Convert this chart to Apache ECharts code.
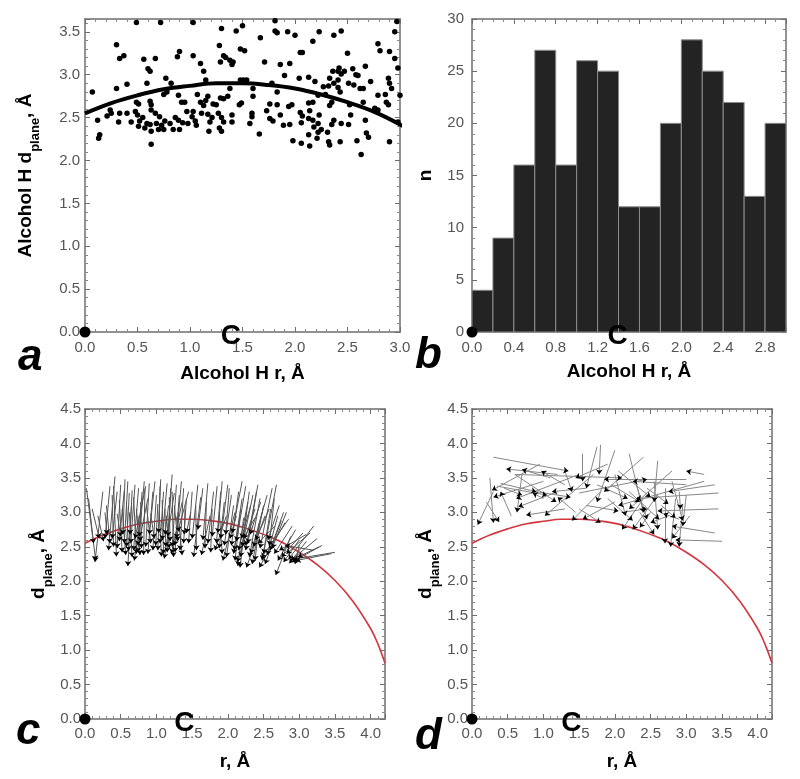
<!DOCTYPE html>
<html><head><meta charset="utf-8">
<script src="https://cdn.jsdelivr.net/npm/echarts@6/dist/echarts.min.js"></script>
<style>html,body{margin:0;padding:0;background:#fff}#chart{width:800px;height:779px}</style>
</head><body><div id="chart"></div>
<script>
// ---------- DATA ----------
// Panel a: alcohol H positions (r, d_plane)
const scatterA = [
[0.49,3.61],[0.72,3.61],[0.30,3.35],[0.33,3.19],[0.37,3.22],[0.56,3.18],[0.67,3.19],[0.88,3.21],[0.90,3.27],
[0.60,3.07],[0.62,3.04],[0.77,2.96],[0.59,2.90],[0.82,2.90],[0.40,2.89],[0.30,2.84],[0.07,2.80],[0.75,2.77],
[0.78,2.80],[0.89,2.76],[0.49,2.68],[0.51,2.66],[0.62,2.69],[0.63,2.65],[0.92,2.68],[0.95,2.68],[0.24,2.59],
[0.25,2.55],[0.33,2.55],[0.40,2.55],[0.48,2.57],[0.50,2.53],[0.63,2.59],[0.67,2.55],[0.71,2.51],[0.97,2.57],
[0.12,2.47],[0.32,2.45],[0.44,2.45],[0.52,2.46],[0.51,2.40],[0.59,2.43],[0.62,2.42],[0.68,2.43],[0.70,2.36],
[0.76,2.46],[0.81,2.43],[0.89,2.47],[0.98,2.43],[0.63,2.34],[0.75,2.36],[0.84,2.36],[0.90,2.36],[0.14,2.30],
[0.13,2.26],[0.63,2.19],[0.55,2.50],[0.57,2.38],[0.73,2.41],[0.86,2.50],[0.93,2.44],[0.21,2.52],
[1.03,3.61],[1.30,3.54],[1.44,3.51],[1.50,3.57],[1.67,3.43],[1.81,3.63],[1.81,3.51],[1.83,3.49],[1.93,3.50],
[2.00,3.46],[1.28,3.34],[1.48,3.30],[1.52,3.28],[1.03,3.22],[1.32,3.22],[1.34,3.20],[1.38,3.17],[1.41,3.15],
[1.29,3.15],[1.40,3.12],[1.71,3.15],[1.10,3.13],[1.86,3.12],[1.95,3.13],[1.13,3.04],[1.90,2.99],[1.15,2.94],
[1.48,2.94],[1.51,2.94],[1.54,2.94],[1.78,2.90],[1.60,2.84],[1.38,2.84],[1.83,2.80],[1.07,2.77],[1.17,2.75],
[1.15,2.70],[1.29,2.73],[1.32,2.72],[1.36,2.75],[1.60,2.75],[1.10,2.68],[1.13,2.64],[1.22,2.66],[1.25,2.65],
[1.47,2.65],[1.49,2.67],[1.76,2.66],[1.83,2.65],[1.94,2.63],[1.97,2.65],[1.03,2.57],[1.02,2.51],[1.05,2.46],
[1.06,2.41],[1.11,2.55],[1.17,2.54],[1.21,2.50],[1.27,2.55],[1.30,2.50],[1.40,2.53],[1.59,2.55],[1.59,2.51],
[1.57,2.43],[1.73,2.58],[1.76,2.49],[1.79,2.46],[1.86,2.53],[1.89,2.41],[1.95,2.42],[1.19,2.45],[1.32,2.45],
[1.40,2.45],[1.28,2.38],[1.30,2.34],[1.18,2.34],[1.66,2.31],[1.98,2.23],
[2.23,3.50],[2.37,3.46],[2.44,3.51],[2.17,3.39],[2.95,3.50],[2.97,3.62],[2.79,3.36],[2.81,3.28],[2.90,3.27],
[2.95,3.19],[2.05,3.26],[2.07,3.26],[2.50,3.25],[2.42,3.08],[2.41,3.04],[2.44,3.01],[2.47,3.04],[2.55,3.07],
[2.58,3.00],[2.60,2.99],[2.67,3.10],[2.36,3.04],[2.33,2.96],[2.37,2.90],[2.32,2.87],[2.41,2.94],[2.41,2.85],
[2.43,2.80],[2.51,2.90],[2.56,2.88],[2.62,2.84],[2.65,2.84],[2.72,2.92],[2.89,2.96],[2.90,2.90],[2.92,2.84],
[2.04,2.96],[2.13,2.97],[2.19,2.92],[2.27,2.86],[2.29,2.77],[2.79,2.76],[2.86,2.77],[2.87,2.68],[2.89,2.65],
[2.76,2.61],[2.79,2.59],[2.13,2.67],[2.17,2.68],[2.22,2.76],[2.33,2.64],[2.35,2.68],[2.52,2.65],[2.53,2.53],
[2.65,2.68],[2.05,2.56],[2.07,2.52],[2.06,2.44],[2.14,2.58],[2.13,2.49],[2.17,2.47],[2.18,2.39],[2.23,2.53],
[2.22,2.43],[2.22,2.33],[2.25,2.36],[2.21,2.26],[2.37,2.47],[2.35,2.42],[2.44,2.43],[2.51,2.42],[2.67,2.47],
[2.31,2.33],[2.32,2.22],[2.33,2.18],[2.43,2.22],[2.59,2.23],[2.68,2.32],[2.70,2.27],[2.90,2.22],[2.06,2.20],
[2.14,2.17],[2.13,2.30],[2.98,3.08],[3.00,2.76],[2.98,2.45],[2.63,2.07]
];
// Fitted circle (r, d_plane)
const fitR = [0,0.25,0.5,0.75,1.0,1.25,1.5,1.75,2.0,2.25,2.5,2.75,3.0,3.25,3.5,3.75,4.0,4.1,4.2];
const fitD = [2.55,2.67,2.76,2.83,2.87,2.90,2.90,2.88,2.84,2.77,2.68,2.57,2.42,2.24,2.01,1.71,1.31,1.09,0.81];
// Panel b: histogram
const histBinStart = [0.0,0.2,0.4,0.6,0.8,1.0,1.2,1.4,1.6,1.8,2.0,2.2,2.4,2.6,2.8];
const histCounts   = [4,9,16,27,16,26,25,12,12,20,28,25,22,13,20];
const BIN_WIDTH = 0.2;
// Panel c & d: vectors [tailR, tailD, headR, headD]
const vectorsC = [
[0.02,3.35,0.15,2.30],[0.05,3.20,0.12,2.55],[0.10,3.05,0.20,2.62],[0.25,3.30,0.14,2.28],[0.18,2.95,0.26,2.58],
[0.35,3.38,0.28,2.62],[0.30,3.10,0.35,2.55],[0.42,3.52,0.33,2.45],[0.38,3.25,0.40,2.50],[0.45,3.30,0.38,2.62],
[0.28,3.00,0.31,2.68],[0.50,3.40,0.45,2.48],[0.55,3.32,0.48,2.58],[0.48,3.18,0.52,2.42],[0.60,3.45,0.55,2.55],
[0.52,3.05,0.57,2.38],[0.62,3.28,0.58,2.50],[0.45,2.98,0.50,2.65],[0.58,3.15,0.61,2.44],[0.40,3.38,0.44,2.36],
[0.65,3.10,0.60,2.22],[0.56,3.48,0.53,2.68],[0.70,3.40,0.64,2.55],[0.75,3.35,0.68,2.45],[0.68,3.22,0.72,2.40],
[0.80,3.30,0.74,2.52],[0.72,3.05,0.77,2.38],[0.85,3.38,0.70,2.62],[0.62,3.00,0.66,2.35],[0.78,3.15,0.79,2.48],
[0.83,3.45,0.76,2.65],[0.66,3.32,0.63,2.68],[0.74,2.95,0.78,2.58],[0.88,3.20,0.73,2.42],[0.79,3.02,0.69,2.30],
[0.90,3.42,0.85,2.50],[0.95,3.30,0.88,2.40],[0.86,3.10,0.92,2.55],[1.00,3.25,0.95,2.45],[0.92,2.98,0.97,2.62],
[0.98,3.45,0.90,2.68],[0.84,3.35,0.82,2.38],[1.02,3.12,0.99,2.52],[1.05,3.38,1.02,2.45],[1.10,3.30,1.05,2.55],
[1.08,3.18,1.10,2.40],[1.15,3.42,1.08,2.60],[1.12,3.05,1.13,2.50],[1.20,3.35,1.15,2.42],[1.18,3.22,1.19,2.58],
[1.04,3.00,1.07,2.36],[1.22,3.55,1.16,2.65],[1.14,2.95,1.18,2.48],[1.25,3.28,1.11,2.33],[1.06,3.48,1.03,2.70],
[1.17,3.10,1.12,2.68],[1.28,3.40,1.22,2.50],[1.32,3.25,1.26,2.42],[1.25,3.10,1.30,2.58],[1.38,3.35,1.33,2.45],
[1.30,3.00,1.36,2.38],[1.42,3.20,1.38,2.55],[1.35,3.45,1.28,2.62],[1.22,3.30,1.24,2.35],[1.40,3.05,1.39,2.68],
[1.27,2.95,1.32,2.72],[1.45,3.30,1.25,2.52],[1.36,3.15,1.21,2.40],[1.50,3.30,1.45,2.55],[1.58,3.40,1.50,2.62],
[1.55,3.10,1.56,2.45],[1.62,3.22,1.52,2.35],[1.48,3.00,1.42,2.70],[1.65,3.35,1.58,2.75],[1.72,3.42,1.65,2.60],
[1.70,3.15,1.68,2.48],[1.80,3.30,1.72,2.55],[1.78,3.05,1.76,2.42],[1.85,3.38,1.78,2.65],[1.75,2.95,1.63,2.38],
[1.90,3.30,1.84,2.55],[1.95,3.15,1.88,2.48],[2.00,3.40,1.90,2.62],[1.88,3.00,1.92,2.40],[2.05,3.25,1.95,2.52],
[1.92,3.45,1.86,2.70],[2.08,3.10,1.98,2.35],[1.98,2.95,1.82,2.45],[2.02,3.35,1.97,2.68],[2.10,3.00,1.93,2.30],
[2.15,3.30,2.05,2.52],[2.20,3.20,2.08,2.40],[2.25,3.38,2.12,2.58],[2.18,3.05,2.10,2.30],[2.28,3.15,2.15,2.45],
[2.12,2.95,2.03,2.62],[2.30,3.30,2.18,2.35],[2.22,2.92,2.14,2.22],[2.35,3.25,2.20,2.50],[2.26,3.00,2.17,2.20],
[2.20,3.45,2.06,2.70],[2.32,3.10,2.19,2.62],[2.16,2.88,2.09,2.45],[2.38,3.05,2.13,2.28],[2.40,3.30,2.25,2.45],
[2.45,3.20,2.30,2.35],[2.42,3.40,2.28,2.55],[2.50,3.10,2.34,2.25],[2.38,2.92,2.22,2.62],[2.48,3.00,2.36,2.50],
[2.55,3.25,2.32,2.40],[2.44,2.85,2.38,2.30],[2.52,2.95,2.26,2.20],[2.35,2.80,2.24,2.52],[2.58,3.05,2.39,2.60],
[2.46,3.15,2.31,2.68],[2.62,3.35,2.45,2.48],[2.68,3.40,2.50,2.40],[2.60,3.05,2.48,2.30],[2.70,2.95,2.55,2.38],
[2.65,3.20,2.58,2.52],[2.75,2.88,2.52,2.25],[2.72,3.10,2.56,2.60],[2.80,2.85,2.44,2.20],[2.66,2.80,2.42,2.55],
[2.78,3.00,2.59,2.45],[2.85,2.90,2.47,2.34],[2.90,2.80,2.65,2.40],[2.95,2.75,2.70,2.30],[3.05,2.70,2.75,2.35],
[2.88,2.65,2.67,2.09],[3.00,2.60,2.78,2.28],[2.82,3.00,2.62,2.48],[3.10,2.68,2.72,2.45],[3.20,2.80,2.85,2.32],
[3.25,2.62,2.88,2.30],[3.32,2.52,2.90,2.28],[3.50,2.42,2.92,2.32],[3.45,2.40,2.95,2.30],[3.15,2.70,2.82,2.40],
[3.28,2.50,2.98,2.35],[3.10,2.58,2.86,2.26],[3.00,2.52,2.94,2.25],[3.20,2.45,2.80,2.52]
];
const vectorsD = [
[0.30,3.30,0.08,2.82],[0.25,3.50,0.30,2.85],[0.20,3.15,0.38,2.86],[0.95,3.70,0.28,3.32],[0.30,3.80,1.35,3.60],
[1.20,3.55,0.48,3.63],[1.10,3.50,0.70,3.62],[1.30,3.40,0.97,3.60],[1.00,3.45,0.30,3.22],[0.55,2.95,0.40,3.30],
[1.50,3.55,0.62,3.20],[1.20,3.30,0.65,3.08],[0.70,3.55,0.63,3.00],[1.30,3.05,0.76,2.96],[0.40,3.42,0.90,3.30],
[1.00,3.20,0.85,3.28],[0.35,3.38,1.05,3.25],[1.60,3.35,1.12,3.30],[1.45,3.00,1.20,3.22],[0.60,3.55,1.18,3.15],
[1.70,3.55,1.02,2.95],[1.75,3.95,1.60,3.35],[1.80,3.98,1.78,3.55],[1.55,3.85,1.55,3.45],[1.90,3.70,1.45,3.50],
[2.00,3.90,1.75,3.15],[2.40,3.80,1.85,3.30],[3.00,3.48,1.85,3.48],[0.60,3.55,2.10,3.50],[3.00,3.40,2.25,3.45],
[1.50,3.28,2.45,3.48],[2.20,3.85,2.40,3.00],[2.60,3.75,2.55,3.15],[2.80,3.60,2.20,3.05],[3.25,3.45,2.05,3.10],
[3.40,3.40,2.75,3.30],[3.45,3.28,2.30,3.20],[3.45,3.05,2.60,3.02],[3.40,2.70,2.80,2.80],[3.50,2.58,2.85,2.60],
[3.25,3.55,3.00,3.60],[2.90,3.30,2.92,3.05],[3.00,3.25,2.95,2.80],[2.00,3.55,2.15,2.95],[1.90,3.20,2.25,2.88],
[1.60,3.10,2.05,3.02],[1.80,3.30,1.40,2.88],[2.00,3.15,1.55,2.90],[1.50,3.05,1.80,2.85],[2.30,3.40,2.45,2.90],
[2.55,3.45,2.60,2.75],[2.70,3.35,2.70,2.55],[2.50,3.00,2.35,2.78],[2.85,3.20,2.78,2.50],[2.95,3.10,2.90,2.50],
[2.60,3.25,2.25,2.75],[2.40,3.20,2.10,2.75],[2.75,2.95,2.50,2.85],[2.20,3.30,2.62,2.90],[2.10,3.00,2.45,3.05],
[1.95,3.40,2.35,3.15],[2.65,3.10,2.85,2.92],[2.45,3.35,2.75,3.12],[2.05,3.60,2.50,3.22],[1.75,3.40,2.18,3.20],
[2.90,2.90,2.68,2.98],[3.05,2.95,2.80,2.62],[2.35,3.00,2.55,2.68],[2.80,3.45,2.95,2.88],[1.30,3.60,1.40,3.30],
[0.90,3.30,1.38,3.22],[0.45,3.35,0.70,3.25]
];
const originMark = [0, 0];
const centerMark = [1.39, 0];
const panelLetters = ['a', 'b', 'c', 'd'];

// ---------- CHART ----------
const FONT = '"Liberation Sans", Arial, Helvetica, sans-serif';
const AX = '#6e6e6e';
function axisBase(gridIndex, min, max, interval, minorSplit, extra) {
  return Object.assign({
    type: 'value', gridIndex, min, max, interval,
    axisLine: {show: true, onZero: false, lineStyle: {color: AX, width: 1.5}},
    axisTick: {show: true, inside: true, length: 5, lineStyle: {color: AX, width: 1}},
    minorTick: {show: true, splitNumber: minorSplit, length: 3, lineStyle: {color: '#888', width: 1}},
    splitLine: {show: false}, minorSplitLine: {show: false}
  }, extra);
}
function lbl(dec, showMax, margin) {
  return {show: true, color: '#555', fontSize: 15, fontFamily: FONT, margin: margin,
    showMaxLabel: showMax, formatter: v => v.toFixed(dec)};
}
const nameStyle = {fontSize: 19, fontWeight: 'bold', color: '#000', fontFamily: FONT, lineHeight: 32,
  rich: {sub: {fontSize: 13, fontWeight: 'bold', color: '#000', fontFamily: FONT, lineHeight: 32, verticalAlign: 'bottom'}}};
const hidden = {show: false};

const grids = [
  {left: 85, top: 19, width: 315, height: 313},
  {left: 472, top: 19, width: 314, height: 313},
  {left: 85, top: 409, width: 300, height: 313},
  {left: 472, top: 409, width: 300, height: 313}
];

const xAxis = [
  axisBase(0, 0, 3.0, 0.5, 5, {position: 'bottom', axisLabel: lbl(1, true, 8), name: 'Alcohol H r, Å', nameLocation: 'middle', nameGap: 26, nameTextStyle: nameStyle}),
  axisBase(0, 0, 3.0, 0.5, 5, {position: 'top', axisLabel: hidden}),
  axisBase(1, 0, 3.0, 0.4, 4, {position: 'bottom', axisLabel: lbl(1, false, 8), name: 'Alcohol H r, Å', nameLocation: 'middle', nameGap: 22, nameTextStyle: nameStyle}),
  axisBase(1, 0, 3.0, 0.4, 4, {position: 'top', axisLabel: hidden}),
  axisBase(2, 0, 4.2, 0.5, 5, {position: 'bottom', axisLabel: lbl(1, false, 7), name: 'r, Å', nameLocation: 'middle', nameGap: 27, nameTextStyle: nameStyle}),
  axisBase(2, 0, 4.2, 0.5, 5, {position: 'top', axisLabel: hidden}),
  axisBase(3, 0, 4.2, 0.5, 5, {position: 'bottom', axisLabel: lbl(1, false, 7), name: 'r, Å', nameLocation: 'middle', nameGap: 27, nameTextStyle: nameStyle}),
  axisBase(3, 0, 4.2, 0.5, 5, {position: 'top', axisLabel: hidden})
];
const yAxis = [
  axisBase(0, 0, 3.65, 0.5, 5, {position: 'left', axisLabel: lbl(1, false, 5), name: 'Alcohol H d{sub|plane}, Å', nameLocation: 'middle', nameRotate: 90, nameGap: 43, nameTextStyle: nameStyle}),
  axisBase(0, 0, 3.65, 0.5, 5, {position: 'right', axisLabel: hidden}),
  axisBase(1, 0, 30, 5, 5, {position: 'left', axisLabel: lbl(0, true, 8), name: 'n', nameLocation: 'middle', nameRotate: 90, nameGap: 30, nameTextStyle: nameStyle}),
  axisBase(1, 0, 30, 5, 5, {position: 'right', axisLabel: hidden}),
  axisBase(2, 0, 4.5, 0.5, 5, {position: 'left', axisLabel: lbl(1, true, 4), name: 'd{sub|plane}, Å', nameLocation: 'middle', nameRotate: 90, nameGap: 30, nameTextStyle: nameStyle}),
  axisBase(2, 0, 4.5, 0.5, 5, {position: 'right', axisLabel: hidden}),
  axisBase(3, 0, 4.5, 0.5, 5, {position: 'left', axisLabel: lbl(1, true, 4), name: 'd{sub|plane}, Å', nameLocation: 'middle', nameRotate: 90, nameGap: 30, nameTextStyle: nameStyle}),
  axisBase(3, 0, 4.5, 0.5, 5, {position: 'right', axisLabel: hidden})
];

const fitData = fitR.map((r, i) => [r, fitD[i]]);
function markerSeries(axisIdx) {
  return [{
    type: 'custom', xAxisIndex: axisIdx, yAxisIndex: axisIdx, silent: true, clip: false, z: 20,
    data: [[originMark[0], originMark[1], centerMark[0], centerMark[1]]],
    encode: {x: [0, 2], y: [1, 3]},
    renderItem: (params, api) => {
      const o = api.coord([api.value(0), api.value(1)]);
      const c = api.coord([api.value(2), api.value(3)]);
      return {type: 'group', children: [
        {type: 'circle', shape: {cx: o[0], cy: o[1], r: 5.5}, style: {fill: '#000'}},
        {type: 'text', x: c[0], y: c[1] + 4, style: {text: 'C', fill: '#000', font: 'bold 28px ' + FONT, align: 'center', verticalAlign: 'middle'}}
      ]};
    }
  }];
}
function vectorSeries(axisIdx, vecs, shaftColor) {
  const data = vecs.map(v => ({coords: [[v[0], v[1]], [v[2], v[3]]]}));
  return [
    {type: 'lines', coordinateSystem: 'cartesian2d', xAxisIndex: axisIdx, yAxisIndex: axisIdx, data: data,
      symbol: ['none', 'none'], lineStyle: {color: shaftColor, width: 1, opacity: 1, curveness: 0}, silent: true, z: 3},
    {type: 'lines', coordinateSystem: 'cartesian2d', xAxisIndex: axisIdx, yAxisIndex: axisIdx, data: data,
      symbol: ['none', 'arrow'], symbolSize: 5, lineStyle: {color: '#000', width: 0, opacity: 1, curveness: 0}, silent: true, z: 4}
  ];
}

const series = [
  // a
  {type: 'scatter', xAxisIndex: 0, yAxisIndex: 0, data: scatterA, symbolSize: 5.5, itemStyle: {color: '#000', opacity: 1}, silent: true},
  {type: 'line', xAxisIndex: 0, yAxisIndex: 0, data: fitData, smooth: 0.4, showSymbol: false, lineStyle: {color: '#000', width: 4}, silent: true},
  ...markerSeries(0),
  // b
  {type: 'custom', xAxisIndex: 2, yAxisIndex: 2, silent: true,
    data: histBinStart.map((s, i) => [s, s + BIN_WIDTH, histCounts[i]]),
    encode: {x: [0, 1], y: 2},
    renderItem: (params, api) => {
      const p0 = api.coord([api.value(0), api.value(2)]);
      const p1 = api.coord([api.value(1), 0]);
      return {type: 'rect', shape: {x: p0[0], y: p0[1], width: p1[0] - p0[0], height: p1[1] - p0[1]},
        style: {fill: '#232323', stroke: '#8c8c8c', lineWidth: 1}};
    }},
  ...markerSeries(2),
  // c
  {type: 'line', xAxisIndex: 4, yAxisIndex: 4, data: fitData, smooth: 0.4, showSymbol: false, lineStyle: {color: '#d4353f', width: 1.6}, silent: true, z: 2},
  ...vectorSeries(4, vectorsC, '#555'),
  ...markerSeries(4),
  // d
  {type: 'line', xAxisIndex: 6, yAxisIndex: 6, data: fitData, smooth: 0.4, showSymbol: false, lineStyle: {color: '#d4353f', width: 1.6}, silent: true, z: 2},
  ...vectorSeries(6, vectorsD, '#888'),
  ...markerSeries(6)
];

const letterPos = [[18, 358], [415, 356], [16, 732], [415, 737]];
const graphic = panelLetters.map((t, i) => ({
  type: 'text', x: letterPos[i][0], y: letterPos[i][1], z: 50,
  style: {text: t, font: 'italic bold 44px ' + FONT, fill: '#000', verticalAlign: 'middle', align: 'left'}
}));

const chart = echarts.init(document.getElementById('chart'), null, {renderer: 'canvas'});
chart.setOption({animation: false, backgroundColor: '#fff', grid: grids, xAxis, yAxis, series, graphic});
</script>
</body></html>
